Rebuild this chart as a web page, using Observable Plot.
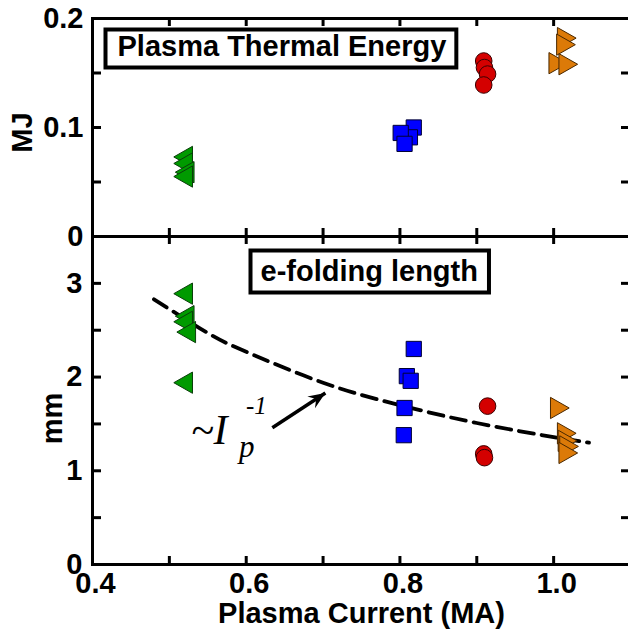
<!DOCTYPE html>
<html>
<head>
<meta charset="utf-8">
<script src="https://cdn.jsdelivr.net/npm/d3@7"></script>
<script src="https://cdn.jsdelivr.net/npm/@observablehq/plot@0.6"></script>
<style>
  html, body { margin: 0; padding: 0; background: #fff; }
  #chart { position: relative; width: 628px; height: 629px; overflow: hidden; }
  #chart svg { position: absolute; left: 0; top: 0; }
</style>
</head>
<body>
<div id="chart"></div>
<script>
// ---- data ----
// Plasma thermal energy (MJ)
const energyGreenX = [0.522, 0.522, 0.524, 0.522];
const energyGreenY = [0.073, 0.067, 0.059, 0.055];
const energyBlueX  = [0.818, 0.813, 0.801, 0.806];
const energyBlueY  = [0.100, 0.091, 0.095, 0.085];
const energyRedX   = [0.909, 0.910, 0.914, 0.909];
const energyRedY   = [0.161, 0.155, 0.149, 0.139];
const energyOrangeX = [1.013, 1.012, 1.002, 1.015];
const energyOrangeY = [0.182, 0.176, 0.159, 0.158];

// e-folding length (mm)
const lengthGreenX = [0.522, 0.524, 0.522, 0.526, 0.522];
const lengthGreenY = [2.89, 2.65, 2.59, 2.48, 1.94];
const lengthBlueX  = [0.818, 0.809, 0.814, 0.806, 0.805];
const lengthBlueY  = [2.30, 2.01, 1.96, 1.67, 1.38];
const lengthRedX   = [0.914, 0.909, 0.910];
const lengthRedY   = [1.69, 1.18, 1.14];
const lengthOrangeX = [1.004, 1.013, 1.014, 1.016, 1.015];
const lengthOrangeY = [1.67, 1.40, 1.32, 1.26, 1.19];

// dashed ~Ip^-1 curve
const fitX = [0.48, 0.55, 0.60, 0.70, 0.80, 0.90, 1.00, 1.046];
const fitY = [2.83, 2.47, 2.27, 1.94, 1.70, 1.51, 1.36, 1.30];

// annotation
const arrowFrom = {x: 0.634, y: 1.46};
const arrowTo   = {x: 0.703, y: 1.83};
const annotAt   = {x: 0.528, y: 1.285};

// axes
const xDomain = [0.4, 1.1];
const xTicks = [0.5, 0.6, 0.7, 0.8, 0.9, 1.0];
const xTickLabels = [0.4, 0.6, 0.8, 1.0];
const energyDomain = [0, 0.2];
const energyTicks = [0.05, 0.1, 0.15];
const energyTickLabels = [0, 0.1, 0.2];
const lengthDomain = [0, 3.5];
const lengthTicks = [0.5, 1, 1.5, 2, 2.5, 3];
const lengthTickLabels = [0, 1, 2, 3];

const colors = {green: "#009a00", blue: "#0000ff", red: "#d40000", orange: "#dc7a08"};
const outline = {green: "#0b3d0b", blue: "#000033", red: "#3a0000", orange: "#4a2800"};

// ---- layout ----
const W = 628, H = 629, ML = 92, MR = -2;
const topTop = 18, topBottom = 236;
const bottomTop = 236, bottomBottom = 564;
const frameW = W - ML - MR;

// ---- symbols ----
const triLeft = {draw(ctx, size) {
  const r = Math.sqrt(size / Math.PI), h = 1.25 * r, d = 2.2 * r;
  ctx.moveTo(-2 * d / 3, 0); ctx.lineTo(d / 3, -h); ctx.lineTo(d / 3, h); ctx.closePath();
}};
const triRight = {draw(ctx, size) {
  const r = Math.sqrt(size / Math.PI), h = 1.25 * r, d = 2.2 * r;
  ctx.moveTo(2 * d / 3, 0); ctx.lineTo(-d / 3, -h); ctx.lineTo(-d / 3, h); ctx.closePath();
}};
// filled arrow head, oriented along the arrow in screen space
const pxPerX = frameW / (xDomain[1] - xDomain[0]);
const pxPerY = (bottomBottom - bottomTop) / (lengthDomain[1] - lengthDomain[0]);
const headAngle = Math.atan2(-(arrowTo.y - arrowFrom.y) * pxPerY, (arrowTo.x - arrowFrom.x) * pxPerX);
const arrowHead = {draw(ctx, size) {
  const L = 17, w = 7, n = 11;
  const c = Math.cos(headAngle), s = Math.sin(headAngle);
  const P = (u, v) => [u * c - v * s, u * s + v * c];
  const a = P(0, 0), b = P(-L, w), m = P(-n, 0), e = P(-L, -w);
  ctx.moveTo(...a); ctx.lineTo(...b); ctx.lineTo(...m); ctx.lineTo(...e); ctx.closePath();
}};

function pts(xs, ys) { return xs.map((x, i) => ({x, y: ys[i]})); }

function seriesMarks(g, b, r, o) {
  const common = {x: "x", y: "y", strokeWidth: 1};
  return [
    Plot.dot(g, {...common, symbol: triLeft, r: 8.5, fill: colors.green, stroke: outline.green}),
    Plot.dot(b, {...common, symbol: "square", r: 8.6, fill: colors.blue, stroke: outline.blue}),
    Plot.dot(r, {...common, symbol: "circle", r: 8.3, fill: colors.red, stroke: outline.red}),
    Plot.dot(o, {...common, symbol: triRight, r: 8.5, fill: colors.orange, stroke: outline.orange})
  ];
}

const FONT = "'Liberation Sans', Arial, sans-serif";
const FS = 29;

function frameTicks(yTicks, frameH) {
  const tk = {stroke: "black", strokeWidth: 3};
  return [
    Plot.tickX(xTicks, {x: d => d, insetTop: frameH - 8, ...tk}),
    Plot.tickX(xTicks, {x: d => d, insetBottom: frameH - 8, ...tk}),
    Plot.tickY(yTicks, {y: d => d, insetRight: frameW - 9, ...tk}),
    Plot.tickY(yTicks, {y: d => d, insetLeft: frameW - 9, ...tk})
  ];
}

const styleObj = {background: "transparent", overflow: "visible", fontFamily: FONT, fontSize: FS + "px", fontWeight: "bold", color: "black"};
const serif = "'Liberation Serif', 'Times New Roman', serif";

// ---- bottom panel (e-folding length) ----
const bottomPlot = Plot.plot({
  width: W, height: H,
  marginLeft: ML, marginRight: MR, marginTop: bottomTop, marginBottom: H - bottomBottom,
  style: styleObj,
  x: {domain: xDomain, label: null},
  y: {domain: lengthDomain, label: null},
  marks: [
    Plot.axisX(xTickLabels, {anchor: "bottom", tickSize: 0, tickPadding: 8, dx: 3, tickFormat: d3.format(".1f"), fontSize: FS, fontWeight: "bold", label: null}),
    Plot.axisY(lengthTickLabels, {anchor: "left", tickSize: 0, tickPadding: 10, tickFormat: d3.format("d"), fontSize: FS, fontWeight: "bold", label: null}),
    ...frameTicks(lengthTicks, bottomBottom - bottomTop),
    Plot.frame({stroke: "black", strokeWidth: 3}),
    Plot.text(["Plasma Current (MA)"], {frameAnchor: "bottom", dy: 58, lineAnchor: "bottom", fontSize: FS, fontWeight: "bold"}),
    Plot.text(["mm"], {frameAnchor: "left", dx: -40, dy: 18, rotate: -90, fontSize: FS, fontWeight: "bold", textAnchor: "middle"}),
    Plot.line(pts(fitX, fitY), {x: "x", y: "y", curve: "natural", stroke: "black", strokeWidth: 3.8, strokeDasharray: "15,8"}),
    ...seriesMarks(pts(lengthGreenX, lengthGreenY), pts(lengthBlueX, lengthBlueY), pts(lengthRedX, lengthRedY), pts(lengthOrangeX, lengthOrangeY)),
    Plot.link([arrowFrom], {x1: "x", y1: "y", x2: () => arrowTo.x, y2: () => arrowTo.y, stroke: "black", strokeWidth: 3.5, insetEnd: 0}),
    Plot.dot([arrowTo], {x: "x", y: "y", symbol: arrowHead, r: 8, fill: "black", stroke: "none"}),
    Plot.text([annotAt], {x: "x", y: "y", text: () => "~I", textAnchor: "start", lineAnchor: "bottom", fontFamily: serif, fontStyle: "italic", fontWeight: "normal", fontSize: 42}),
    Plot.text([annotAt], {x: "x", y: "y", text: () => "p", dx: 48, dy: 13, textAnchor: "start", lineAnchor: "bottom", fontFamily: serif, fontStyle: "italic", fontWeight: "normal", fontSize: 31}),
    Plot.text([annotAt], {x: "x", y: "y", text: () => "-1", dx: 55, dy: -30, textAnchor: "start", lineAnchor: "bottom", fontFamily: serif, fontStyle: "italic", fontWeight: "normal", fontSize: 25}),
    Plot.text(["e-folding length"], {frameAnchor: "top-left", dx: 168, dy: 44, textAnchor: "start", lineAnchor: "bottom", fontSize: FS, fontWeight: "bold"})
  ]
});

// ---- top panel (plasma thermal energy) ----
const topPlot = Plot.plot({
  width: W, height: 240,
  marginLeft: ML, marginRight: MR, marginTop: topTop, marginBottom: 240 - topBottom,
  style: styleObj,
  x: {domain: xDomain, label: null, axis: null},
  y: {domain: energyDomain, label: null},
  marks: [
    Plot.axisY(energyTickLabels, {anchor: "left", tickSize: 0, tickPadding: 9, tickFormat: d => d === 0 ? "0" : d3.format(".1f")(d), fontSize: FS, fontWeight: "bold", label: null}),
    ...frameTicks(energyTicks, topBottom - topTop),
    Plot.frame({stroke: "black", strokeWidth: 3}),
    Plot.text(["MJ"], {frameAnchor: "left", dx: -70, dy: 5, rotate: -90, fontSize: FS, fontWeight: "bold", textAnchor: "middle"}),
    ...seriesMarks(pts(energyGreenX, energyGreenY), pts(energyBlueX, energyBlueY), pts(energyRedX, energyRedY), pts(energyOrangeX, energyOrangeY)),
    Plot.text(["Plasma Thermal Energy"], {frameAnchor: "top-left", dx: 25, dy: 37, textAnchor: "start", lineAnchor: "bottom", fontSize: FS, fontWeight: "bold"})
  ]
});

const chart = document.getElementById("chart");
chart.appendChild(bottomPlot);
chart.appendChild(topPlot);

// boxes drawn around the two panel titles, sized from the rendered text
function boxAround(svg, label, pad) {
  d3.select(svg).selectAll("text").filter(function() { return this.textContent === label; }).each(function() {
    const bb = this.getBBox();
    const node = this;
    const rect = d3.select(this.parentNode).insert("rect", () => node)
      .attr("x", bb.x - pad.l).attr("y", bb.y - pad.t)
      .attr("width", bb.width + pad.l + pad.r).attr("height", bb.height + pad.t + pad.b)
      .attr("fill", "white").attr("stroke", "black").attr("stroke-width", 4);
    const tf = node.getAttribute("transform");
    if (tf) rect.attr("transform", tf);
  });
}
boxAround(topPlot, "Plasma Thermal Energy", {l: 12, r: 10, t: 0, b: 6});
boxAround(bottomPlot, "e-folding length", {l: 10, r: 11, t: 4, b: 6});
</script>
</body>
</html>
